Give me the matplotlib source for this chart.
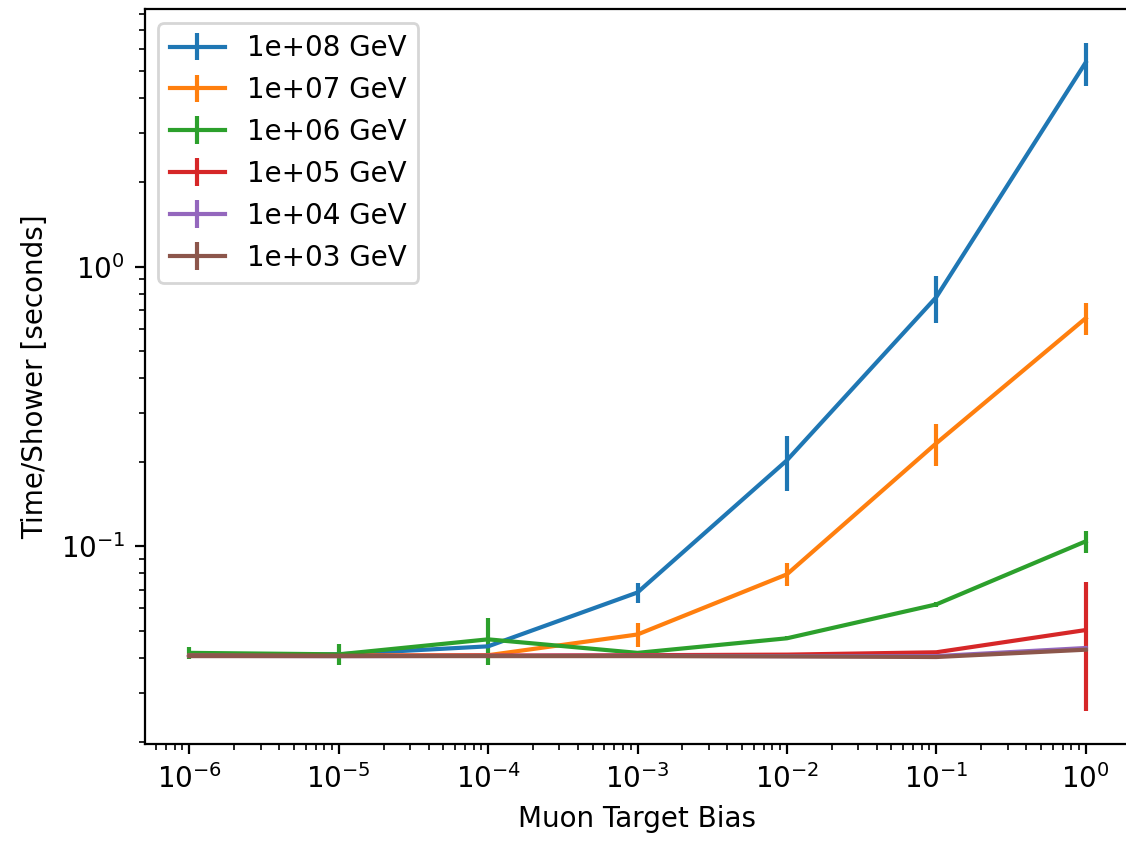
import matplotlib
matplotlib.use("Agg")
import matplotlib.pyplot as plt
import numpy as np

bias = [1e-6, 1e-5, 1e-4, 1e-3, 1e-2, 1e-1, 1e0]
labels = ["1e+08 GeV", "1e+07 GeV", "1e+06 GeV", "1e+05 GeV", "1e+04 GeV", "1e+03 GeV"]

t_1e8 = [0.0406, 0.0411, 0.0439, 0.0684, 0.203, 0.778, 5.37]
e_1e8 = [0.0004, 0.0004, 0.0006, 0.0055, 0.045, 0.15, 0.95]

t_1e7 = [0.0406, 0.0407, 0.0408, 0.0484, 0.0794, 0.2336, 0.654]
e_1e7 = [0.0003, 0.0003, 0.0003, 0.0046, 0.0075, 0.040, 0.086]

t_1e6 = [0.0416, 0.0411, 0.0465, 0.0416, 0.0469, 0.0620, 0.1042]
e_1e6 = [0.0019, 0.0035, 0.0090, 0.0005, 0.0008, 0.0012, 0.0093]

t_1e5 = [0.0407, 0.0406, 0.0407, 0.0408, 0.0410, 0.0418, 0.0502]
e_1e5 = [0.0003, 0.0003, 0.0003, 0.0003, 0.0003, 0.0004, 0.0244]

t_1e4 = [0.0406, 0.0405, 0.0406, 0.0406, 0.0405, 0.0405, 0.0433]
e_1e4 = [0.0003, 0.0003, 0.0003, 0.0003, 0.0003, 0.0003, 0.0004]

t_1e3 = [0.0405, 0.0405, 0.0405, 0.0405, 0.0404, 0.0402, 0.0427]
e_1e3 = [0.0003, 0.0003, 0.0003, 0.0003, 0.0003, 0.0003, 0.0004]

y_major = [0.1, 1.0]

series = [(t_1e8, e_1e8), (t_1e7, e_1e7), (t_1e6, e_1e6),
          (t_1e5, e_1e5), (t_1e4, e_1e4), (t_1e3, e_1e3)]

fig = plt.figure(figsize=(11.26 / 2, 8.41 / 2), dpi=200)
ax = fig.add_axes([144.5 / 1126, 1 - 744.3 / 841, (1130.5 - 144.5) / 1126, (744.3 - 9.3) / 841])

for (t, e), lab in zip(series, labels):
    ax.errorbar(bias, t, yerr=e, label=lab)

ax.set_xscale("log")
ax.set_yscale("log")
ax.set_xticks(bias)
ax.set_yticks(y_major)
ax.set_xlabel("Muon Target Bias")
ax.set_ylabel("Time/Shower [seconds]")
ax.legend(loc="upper left")

fig.savefig("out.png", dpi=200)
